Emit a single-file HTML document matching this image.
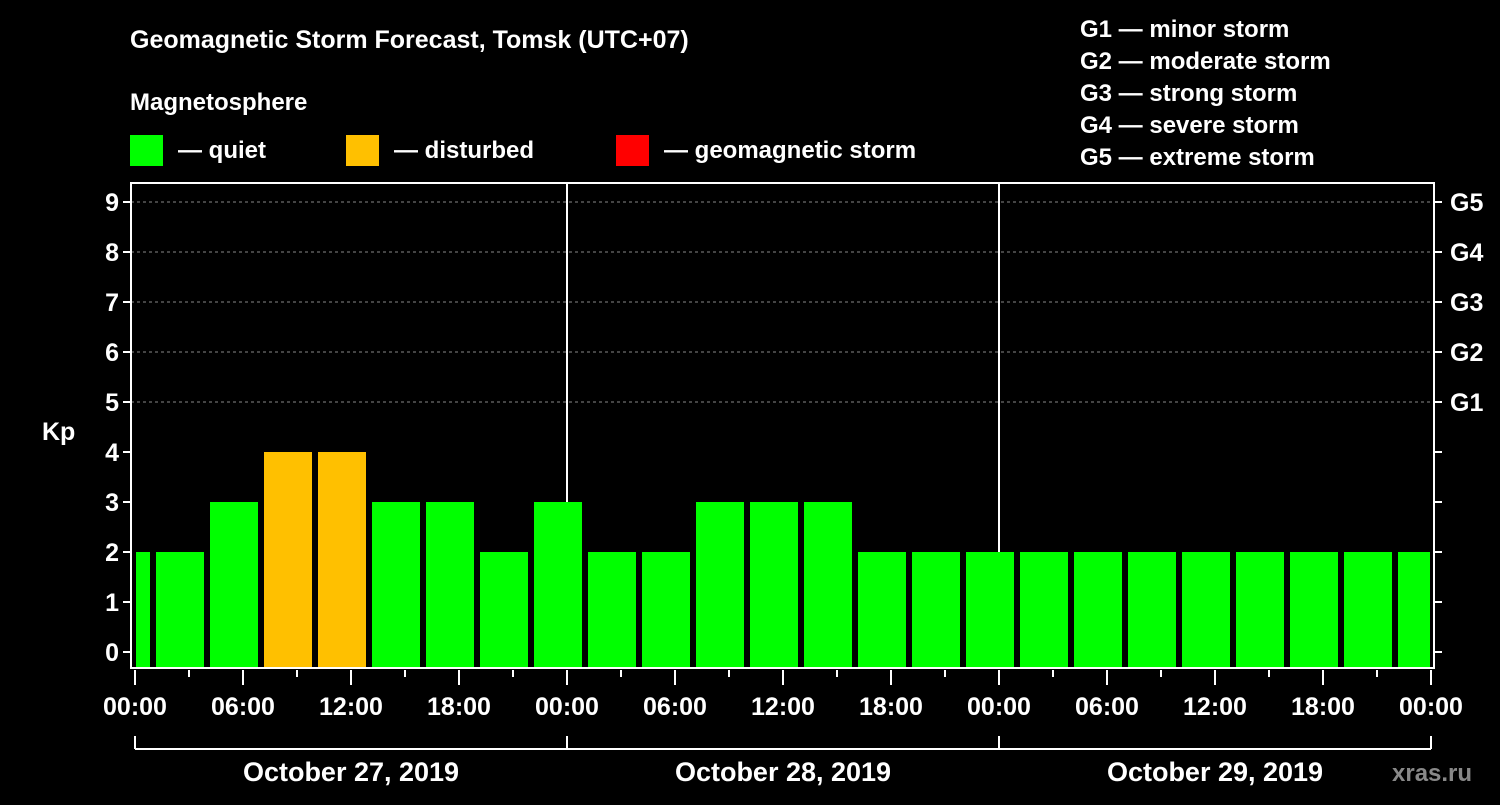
<!DOCTYPE html>
<html><head><meta charset="utf-8"><style>
body{margin:0;background:#000;width:1500px;height:800px;overflow:hidden;font-family:"Liberation Sans",sans-serif;font-weight:bold;color:#fff}
svg text{font-family:"Liberation Sans",sans-serif;font-weight:bold;fill:#fff}
</style></head><body>
<svg id="c" width="1500" height="800">
<text x="130" y="48" font-size="25">Geomagnetic Storm Forecast, Tomsk (UTC+07)</text>
<text x="130" y="110" font-size="24">Magnetosphere</text>
<rect x="130" y="135" width="33" height="31" fill="#00ff00"/>
<text x="178" y="158" font-size="24">— quiet</text>
<rect x="346" y="135" width="33" height="31" fill="#ffc000"/>
<text x="394" y="158" font-size="24">— disturbed</text>
<rect x="616" y="135" width="33" height="31" fill="#ff0000"/>
<text x="664" y="158" font-size="24">— geomagnetic storm</text>
<g font-size="24">
<text x="1080" y="37">G1 — minor storm</text>
<text x="1080" y="69">G2 — moderate storm</text>
<text x="1080" y="101">G3 — strong storm</text>
<text x="1080" y="133">G4 — severe storm</text>
<text x="1080" y="165">G5 — extreme storm</text>
</g>
<text x="42" y="440" font-size="25">Kp</text>
<g id="grid"></g><g id="bars"></g><g id="axes"></g>
<text x="1392" y="781" font-size="24" fill="#888" style="fill:#888">xras.ru</text>
</svg>
<script>
const kpValues=[2,2,3,4,4,3,3,2,3,2,2,3,3,3,2,2,2,2,2,2,2,2,2,2,2];
const barStartHours=[-2,1,4,7,10,13,16,19,22,25,28,31,34,37,40,43,46,49,52,55,58,61,64,67,70];
const yTicks=[0,1,2,3,4,5,6,7,8,9];
const gLabels=["G1","G2","G3","G4","G5"];
const gLevels=[5,6,7,8,9];
const xTickLabels=["00:00","06:00","12:00","18:00","00:00","06:00","12:00","18:00","00:00","06:00","12:00","18:00","00:00"];
const dayLabels=["October 27, 2019","October 28, 2019","October 29, 2019"];
const NS="http://www.w3.org/2000/svg";
const X0=135,PX_H=18,L=131,R=1434,T=183,B=668;
const x=h=>X0+h*PX_H, y=v=>652-v*50;
function mk(tag,a,p){const e=document.createElementNS(NS,tag);for(const k in a)e.setAttribute(k,a[k]);p.appendChild(e);return e;}
const grid=document.getElementById('grid'),bars=document.getElementById('bars'),axes=document.getElementById('axes');
for(const v of gLevels){const l=mk('line',{x1:L,x2:R,y1:y(v),y2:y(v),stroke:'#888','stroke-dasharray':'3,3'},grid);

}
for(let d=1;d<3;d++){const l=mk('line',{x1:x(24*d),x2:x(24*d),y1:T,y2:B,stroke:'#fff','stroke-width':2},grid);

}
kpValues.forEach((v,i)=>{let x1=Math.max(x(barStartHours[i])+3,L+5),x2=Math.min(x(barStartHours[i]+3)-3,R-4);
const r=mk('rect',{x:x1,y:y(v),width:x2-x1,height:B-y(v),fill:v>=5?'#ff0000':v>=4?'#ffc000':'#00ff00'},bars);

});
const f=mk('rect',{x:L,y:T,width:R-L,height:B-T,fill:'none',stroke:'#fff','stroke-width':2},axes);


for(const v of yTicks){mk('line',{x1:L-8,x2:L,y1:y(v),y2:y(v),stroke:'#fff','stroke-width':2},axes);
mk('line',{x1:R,x2:R+8,y1:y(v),y2:y(v),stroke:'#fff','stroke-width':2},axes);
const t=mk('text',{x:L-12,y:y(v)+9,'font-size':25,'text-anchor':'end'},axes);t.textContent=v;

}
gLabels.forEach((g,i)=>{const t=mk('text',{x:1450,y:y(gLevels[i])+9,'font-size':25},axes);t.textContent=g;

});
for(let h=0;h<=72;h+=3){const maj=h%6==0;mk('line',{x1:x(h),x2:x(h),y1:B+2,y2:maj?B+17:B+9,stroke:'#fff','stroke-width':2},axes);}
xTickLabels.forEach((s,i)=>{const t=mk('text',{x:x(i*6),y:715,'font-size':25,'text-anchor':'middle'},axes);t.textContent=s;

});
mk('line',{x1:x(0),x2:x(72),y1:749,y2:749,stroke:'#fff','stroke-width':2},axes);
for(let d=0;d<=3;d++)mk('line',{x1:x(24*d),x2:x(24*d),y1:736,y2:749,stroke:'#fff','stroke-width':2},axes);
dayLabels.forEach((s,i)=>{const t=mk('text',{x:x(24*i+12),y:781,'font-size':27,'text-anchor':'middle'},axes);t.textContent=s;

});
</script>
</body></html>
